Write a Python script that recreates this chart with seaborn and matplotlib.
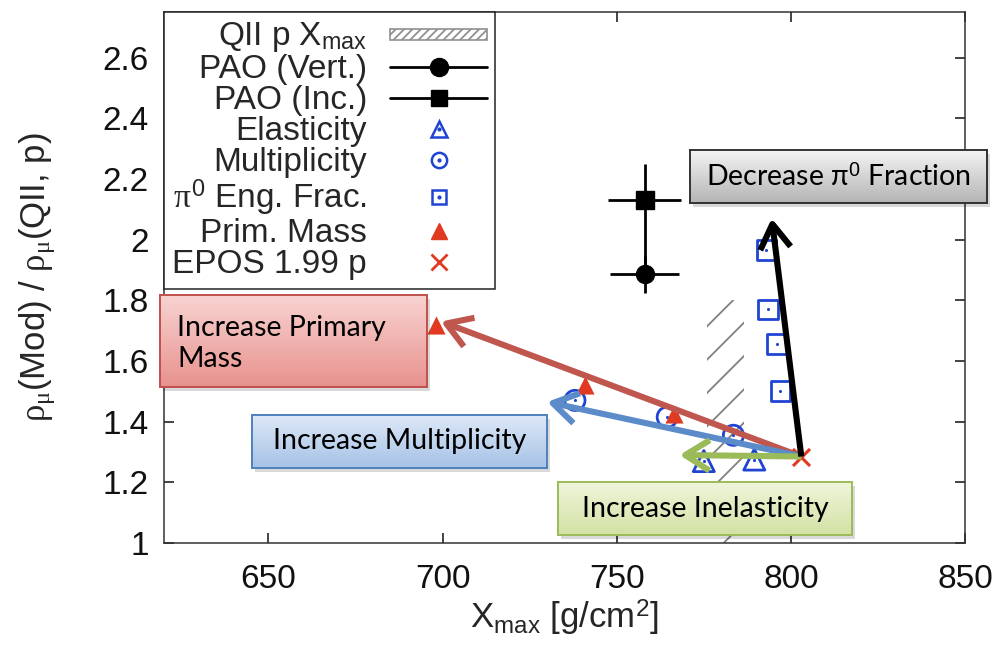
import numpy as np
import matplotlib
matplotlib.use("Agg")
import matplotlib.pyplot as plt
import seaborn as sns
from matplotlib.lines import Line2D
from matplotlib.patches import Patch, Rectangle
from matplotlib.legend_handler import HandlerPatch
from matplotlib.colors import LinearSegmentedColormap
from matplotlib.ticker import FuncFormatter

# ---------------- data ----------------
# Pierre Auger measurements (vertical / inclined)
pao_x = [758.0, 758.0]
pao_y = [1.885, 2.13]
pao_xerr = [10.0, 10.5]
pao_yerr_lo = [0.06, 0.25]
pao_yerr_hi = [0.06, 0.12]

# QII proton Xmax band
qii_xmax_lo = 776.0
qii_xmax_hi = 786.5
qii_band_top = 1.80

# modified-model points
elasticity_x = [789.5, 775.0]
elasticity_y = [1.275, 1.27]
multiplicity_x = [783.5, 764.5, 738.0]
multiplicity_y = [1.355, 1.415, 1.47]
pi0_x = [797.0, 796.0, 793.5, 793.0]
pi0_y = [1.50, 1.655, 1.77, 1.965]
mass_x = [766.5, 741.0, 698.0]
mass_y = [1.425, 1.52, 1.72]
epos_x = [803.0]
epos_y = [1.285]

# trend arrows: all start at the EPOS point, tips below
trend_names = ["mass", "multiplicity", "inelasticity", "pi0"]
trend_tip_x = [699.5, 730.0, 768.0, 794.5]
trend_tip_y = [1.73, 1.465, 1.29, 2.07]
trend_colors = ["#c0574f", "#5b8bc8", "#9bbb59", "#000000"]

x_ticks = [650, 700, 750, 800, 850]
y_ticks = [1.0, 1.2, 1.4, 1.6, 1.8, 2.0, 2.2, 2.4, 2.6]

legend_labels = [r"QII p X$_{\rm max}$", "PAO (Vert.)", "PAO (Inc.)", "Elasticity",
                 "Multiplicity", r"$\pi^0$ Eng. Frac.", "Prim. Mass", "EPOS 1.99 p"]

# ---------------- style ----------------
sns.set_theme(style="ticks")
plt.rcParams["font.family"] = ["Liberation Sans", "DejaVu Sans"]
plt.rcParams["mathtext.fontset"] = "custom"
plt.rcParams["mathtext.rm"] = "Liberation Sans"
plt.rcParams["mathtext.it"] = "Liberation Serif"
plt.rcParams["mathtext.bf"] = "Liberation Sans:bold"
plt.rcParams["hatch.linewidth"] = 1.3

BLUE = "#1f44d4"
RED = "#e03a22"
W, H = 992, 654

fig = plt.figure(figsize=(W / 100, H / 100), dpi=100)
ax = fig.add_axes([164 / W, 1 - 543 / H, (965 - 164) / W, (543 - 12) / H])

# hatched QII band
ax.fill_betweenx([1.0, qii_band_top], qii_xmax_lo, qii_xmax_hi, facecolor="none",
                 edgecolor="#808080", linewidth=0, hatch="/", zorder=1)

# PAO points with error bars
ax.errorbar(pao_x[:1], pao_y[:1], xerr=[pao_xerr[:1], pao_xerr[:1]],
            yerr=[pao_yerr_lo[:1], pao_yerr_hi[:1]], fmt="o", color="black",
            ms=13, elinewidth=2, capsize=0, zorder=3)
ax.errorbar(pao_x[1:], pao_y[1:], xerr=[pao_xerr[1:], pao_xerr[1:]],
            yerr=[pao_yerr_lo[1:], pao_yerr_hi[1:]], fmt="s", color="black",
            ms=13, elinewidth=2, capsize=0, zorder=3)

# open blue markers with a centre dot
for xs, ys, mk, size in [(elasticity_x, elasticity_y, "^", 230),
                         (multiplicity_x, multiplicity_y, "o", 210),
                         (pi0_x, pi0_y, "s", 200)]:
    sns.scatterplot(x=xs, y=ys, marker=mk, s=size, facecolor="none",
                    edgecolor=BLUE, linewidth=2, ax=ax, zorder=4)
    sns.scatterplot(x=xs, y=ys, marker="o", s=5, color=BLUE, edgecolor=BLUE,
                    linewidth=0, ax=ax, zorder=4)

sns.scatterplot(x=mass_x, y=mass_y, marker="^", s=170, color=RED, edgecolor=RED,
                linewidth=0, ax=ax, zorder=4)
sns.scatterplot(x=epos_x, y=epos_y, marker="x", s=150, color=RED, linewidth=2.2,
                ax=ax, zorder=4)

# trend arrows
for tx, ty, c in zip(trend_tip_x, trend_tip_y, trend_colors):
    ax.annotate("", xy=(tx, ty), xytext=(epos_x[0], epos_y[0]),
                arrowprops=dict(arrowstyle="->,head_length=0.8,head_width=0.5",
                                lw=4.4, color=c, shrinkA=0, shrinkB=0,
                                mutation_scale=22, capstyle="butt"),
                zorder=5)

ax.set_xlim(620, 850)
ax.set_ylim(1.0, 2.75)
ax.set_xticks(x_ticks)
ax.set_yticks(y_ticks)
ax.yaxis.set_major_formatter(FuncFormatter(lambda v, p: f"{v:g}"))
ax.tick_params(direction="in", top=True, right=True, length=7, width=1.1,
               labelsize=24, colors="#111111")
ax.tick_params(axis="y", pad=11)
ax.tick_params(axis="x", pad=15)
for s in ax.spines.values():
    s.set_linewidth(1.1)
    s.set_color("#333333")
    s.set_visible(True)

ax.set_xlabel(r"X$_{\rm max}$ [g/cm$^2$]", fontsize=25, labelpad=2)
ax.set_ylabel(r"$\rho_{\mu}$(Mod) / $\rho_{\mu}$(QII, p)", fontsize=25, labelpad=33)


# legend
def thin_rect(legend, orig_handle, xdescent, ydescent, width, height, fontsize):
    return Rectangle((-xdescent, -ydescent + 0.25 * height), width, 0.45 * height)


band_handle = Patch(facecolor="white", edgecolor="#909090", hatch="////", linewidth=1.2)
h_vert = Line2D([], [], color="black", lw=2, marker="o", ms=13)
h_inc = Line2D([], [], color="black", lw=2, marker="s", ms=12)


def open_handle(mk, ms):
    return (Line2D([], [], ls="none", marker=mk, mfc="none", mec=BLUE, mew=1.8, ms=ms),
            Line2D([], [], ls="none", marker="o", ms=2, color=BLUE, mec=BLUE))


h_el = open_handle("^", 11)
h_mu = open_handle("o", 11)
h_pi = open_handle("s", 10.5)
h_ma = Line2D([], [], ls="none", marker="^", ms=11, color=RED, mec=RED)
h_ep = Line2D([], [], ls="none", marker="x", ms=12, color=RED, mew=2)

leg = ax.legend([band_handle, h_vert, h_inc, h_el, h_mu, h_pi, h_ma, h_ep], legend_labels,
                loc="upper left", bbox_to_anchor=(0, 1), borderaxespad=0,
                markerfirst=False, fontsize=24, handlelength=2.9, handletextpad=0.7,
                borderpad=0.25, labelspacing=0.0, fancybox=False, framealpha=1,
                edgecolor="#222222", handler_map={Patch: HandlerPatch(patch_func=thin_rect)})
leg.get_frame().set_linewidth(1.1)
leg.set_zorder(10)


# callout boxes drawn in figure pixels
def callout(x0, y0, x1, y1, top, bottom, edge, text, tx, ty, ha="center", fs=20.5):
    fig.add_artist(Rectangle(((x0 + 3) / W, 1 - (y1 + 4) / H), (x1 - x0) / W, (y1 - y0) / H,
                             transform=fig.transFigure, facecolor="black", alpha=0.15,
                             edgecolor="none", zorder=5))
    bax = fig.add_axes([x0 / W, 1 - y1 / H, (x1 - x0) / W, (y1 - y0) / H], zorder=6)
    grad = np.linspace(0, 1, 64)[:, None]
    cmap = LinearSegmentedColormap.from_list("box", [top, bottom])
    bax.imshow(grad, aspect="auto", cmap=cmap, extent=[0, 1, 0, 1], origin="upper")
    bax.set_xticks([])
    bax.set_yticks([])
    for s in bax.spines.values():
        s.set_color(edge)
        s.set_linewidth(1.4)
        s.set_visible(True)
    bax.text(tx, ty, text, transform=bax.transAxes, ha=ha, va="center", fontsize=fs,
             family=["Lato", "DejaVu Sans"], color="black", linespacing=1.25)


callout(690, 150, 987, 203, "#f4f4f4", "#b4b4b4", "#333333", r"Decrease π$^{0}$ Fraction",
        0.5, 0.5)
callout(160, 295, 427, 387, "#f8d3d1", "#e8928e", "#c0504d", "Increase Primary\nMass",
        0.064, 0.47, ha="left")
callout(252, 415, 547, 468, "#dde8f7", "#a6c2e6", "#4f81bd", "Increase Multiplicity", 0.5, 0.5)
callout(558, 482, 852, 535, "#f0f5dc", "#d3e2a4", "#9bbb59", "Increase Inelasticity", 0.5, 0.5)

fig.savefig("out.png", dpi=100)
